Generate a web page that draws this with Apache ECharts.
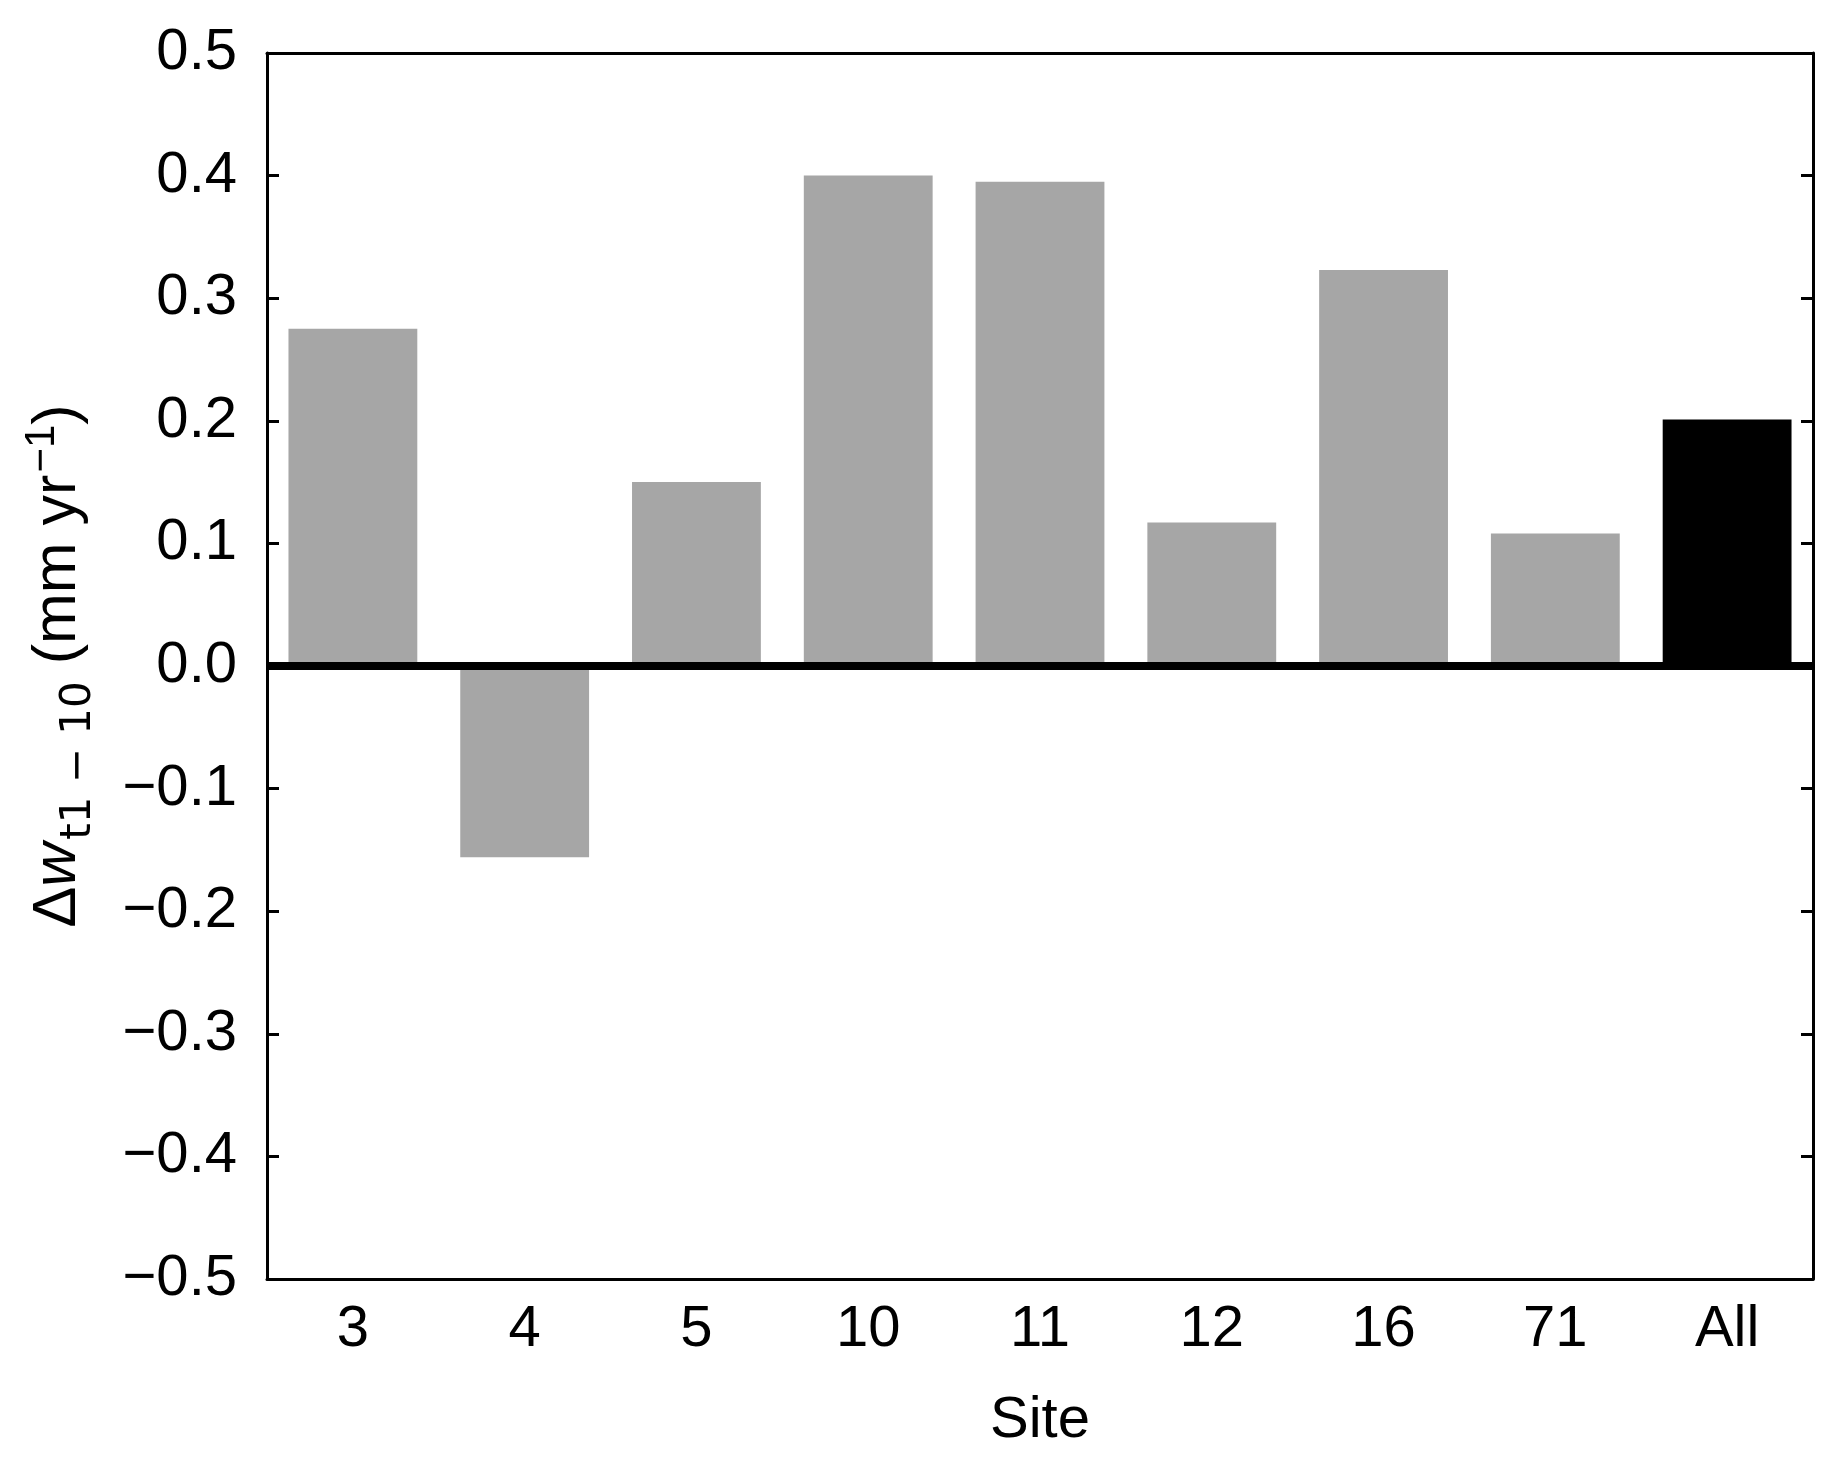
<!DOCTYPE html>
<html lang="en">

<head>
    <meta charset="UTF-8">
    <title>Site chart</title>
    <style>
        * {
            margin: 0;
            padding: 0;
        }

        body {
            background: #fff;
        }

        .box {
            width: 1840px;
            height: 1463px;
        }
    </style>
</head>

<body>
    <div class="box" id="main"></div>

    <script src="https://cdn.jsdelivr.net/npm/echarts@6/dist/echarts.min.js"></script>
    <script>
        // data
        var sites = ['3', '4', '5', '10', '11', '12', '16', '71', 'All'];
        var dw = [0.275, -0.156, 0.150, 0.400, 0.395, 0.117, 0.323, 0.108, 0.201];
        var yTickLabels = ['\u22120.5', '\u22120.4', '\u22120.3', '\u22120.2', '\u22120.1',
            '0.0', '0.1', '0.2', '0.3', '0.4', '0.5'];

        var chart = echarts.init(document.getElementById('main'));
        var font = 'Liberation Sans, Arial, sans-serif';

        var barData = [];
        dw.forEach(function (v, i) {
            barData.push({
                value: v,
                itemStyle: { color: sites[i] === 'All' ? '#000000' : '#a6a6a6' }
            });
        });

        function yLabel(v) {
            var idx = Math.round((v + 0.5) * 10);
            return yTickLabels[idx];
        }

        var option = {
            animation: false,
            backgroundColor: '#fff',
            grid: {
                left: 267,
                right: 27,
                top: 53,
                bottom: 184
            },
            xAxis: [
                {
                    type: 'category',
                    data: sites,
                    position: 'bottom',
                    name: 'Site',
                    nameLocation: 'middle',
                    nameGap: 113,
                    nameTextStyle: { fontFamily: font, fontSize: 58, color: '#000' },
                    axisLine: { show: true, onZero: false, lineStyle: { color: '#000', width: 3 } },
                    axisTick: { inside: true, alignWithLabel: true, length: 12, lineStyle: { color: '#000', width: 2 } },
                    axisLabel: { fontFamily: font, fontSize: 58, color: '#000', margin: 22 }
                },
                {
                    type: 'category',
                    data: sites,
                    position: 'top',
                    axisLine: { show: true, onZero: false, lineStyle: { color: '#000', width: 3 } },
                    axisTick: { inside: true, alignWithLabel: true, length: 12, lineStyle: { color: '#000', width: 2 } },
                    axisLabel: { show: false }
                }
            ],
            yAxis: [
                {
                    type: 'value',
                    min: -0.5,
                    max: 0.5,
                    interval: 0.1,
                    position: 'left',
                    name: '{d|\u0394}{w|w}{sub|t1 \u2212 10}{n| (mm yr}{sup|\u22121}{n|)}',
                    nameLocation: 'middle',
                    nameRotate: 90,
                    nameGap: 176,
                    nameTextStyle: {
                        color: '#000',
                        rich: {
                            d: { fontFamily: font, fontSize: 61, lineHeight: 66, verticalAlign: 'middle' },
                            w: { fontFamily: font, fontSize: 61, fontStyle: 'italic', lineHeight: 66, verticalAlign: 'middle' },
                            n: { fontFamily: font, fontSize: 61, lineHeight: 66, verticalAlign: 'middle' },
                            sub: { fontFamily: 'DejaVu Sans', fontSize: 42, lineHeight: 42, padding: [42, 0, 0, 3], verticalAlign: 'middle' },
                            sup: { fontFamily: font, fontSize: 42, lineHeight: 42, padding: [0, 0, 32, 2], verticalAlign: 'middle' }
                        }
                    },
                    splitLine: { show: false },
                    axisLine: { show: true, onZero: false, lineStyle: { color: '#000', width: 3 } },
                    axisTick: { show: true, inside: true, length: 12, lineStyle: { color: '#000', width: 3 } },
                    axisLabel: {
                        fontFamily: font, fontSize: 58, color: '#000', margin: 30,
                        formatter: yLabel
                    }
                },
                {
                    type: 'value',
                    min: -0.5,
                    max: 0.5,
                    interval: 0.1,
                    position: 'right',
                    splitLine: { show: false },
                    axisLine: { show: true, onZero: false, lineStyle: { color: '#000', width: 3 } },
                    axisTick: { show: true, inside: true, length: 12, lineStyle: { color: '#000', width: 3 } },
                    axisLabel: { show: false }
                }
            ],
            series: [
                {
                    name: 'dw',
                    type: 'bar',
                    data: barData,
                    barCategoryGap: '25%',
                    markLine: {
                        silent: true,
                        symbol: 'none',
                        label: { show: false },
                        lineStyle: { color: '#000', width: 8, type: 'solid' },
                        data: [{ yAxis: 0 }]
                    }
                }
            ]
        };
        chart.setOption(option);
    </script>
</body>

</html>
